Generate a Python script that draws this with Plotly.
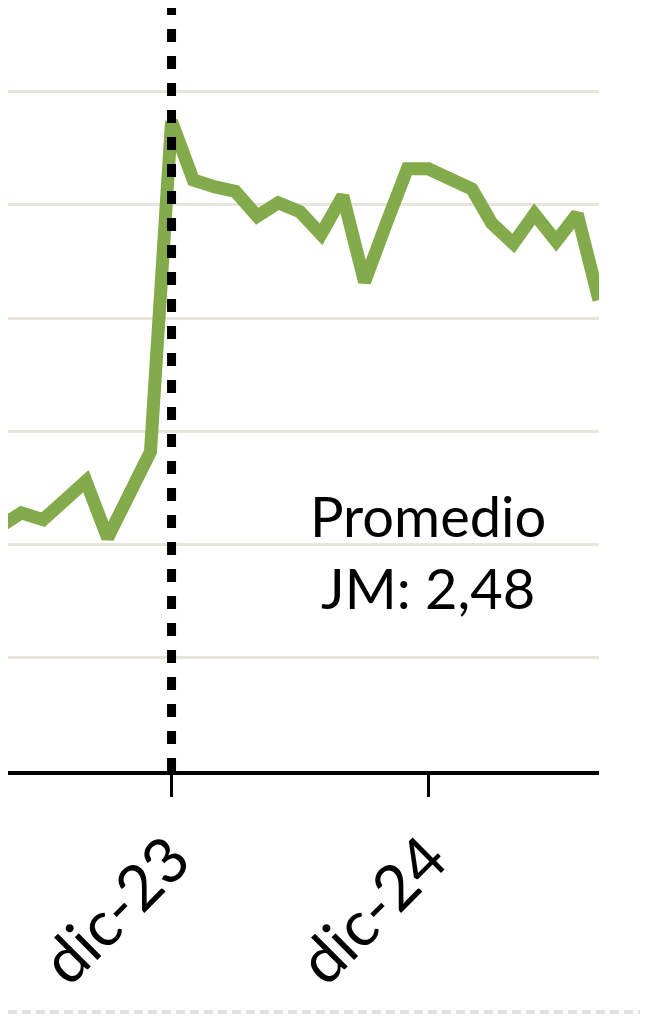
import plotly.graph_objects as go

months = ["2023-04-01", "2023-05-01", "2023-06-01", "2023-07-01", "2023-08-01", "2023-09-01",
          "2023-10-01", "2023-11-01", "2023-12-01", "2024-01-01", "2024-02-01", "2024-03-01",
          "2024-04-01", "2024-05-01", "2024-06-01", "2024-07-01", "2024-08-01", "2024-09-01",
          "2024-10-01", "2024-11-01", "2024-12-01", "2025-01-01", "2025-02-01", "2025-03-01",
          "2025-04-01", "2025-05-01", "2025-06-01", "2025-07-01", "2025-08-01"]
values = [1.08, 1.14, 1.11, 1.20, 1.28, 1.03, 1.21, 1.41, 2.87, 2.61, 2.58, 2.56,
          2.45, 2.51, 2.47, 2.37, 2.54, 2.16, 2.41, 2.66, 2.66, 2.61, 2.57, 2.42,
          2.33, 2.46, 2.34, 2.46, 2.08]

tick_vals = ["2023-12-01", "2024-12-01"]
tick_text = ["dic-23", "dic-24"]
cutoff = "2023-12-01"
y_top = 3.37

font = "Lato"

fig = go.Figure()

fig.add_trace(go.Scatter(x=months, y=values, mode="lines",
                         line=dict(color="#83aa4b", width=13),
                         showlegend=False))

# vertical reference line at the change, drawn on top
fig.add_trace(go.Scatter(x=[cutoff, cutoff], y=[0, y_top], mode="lines",
                         line=dict(color="black", width=9, dash="13px,14px"),
                         hoverinfo="skip", showlegend=False))

fig.add_annotation(x="2024-12-01", y=1.13, xref="x", yref="y", text="Promedio",
                   showarrow=False, font=dict(family=font, size=56, color="black"))
fig.add_annotation(x="2024-12-01", y=0.81, xref="x", yref="y", text="JM: 2,48",
                   showarrow=False, font=dict(family=font, size=56, color="black"))

# dashed separator at the bottom of the image
fig.add_shape(type="line", xref="paper", yref="paper", x0=0, x1=1.09,
              y0=-0.3159, y1=-0.3159,
              line=dict(color="#e0e0dc", width=4, dash="9px,5px"))

fig.update_xaxes(range=["2023-04-12", "2025-08-01"], tickvals=tick_vals, ticktext=tick_text,
                 tickangle=-45, ticks="outside", ticklen=22, tickwidth=3, tickcolor="black",
                 showline=True, linecolor="black", linewidth=4, showgrid=False,
                 zeroline=False, automargin=False,
                 tickfont=dict(family=font, size=63, color="black"))
fig.update_yaxes(range=[0, y_top], dtick=0.5, showgrid=True, gridcolor="#e8e6dc", gridwidth=3,
                 showticklabels=False, zeroline=False, showline=False, automargin=False)

fig.update_layout(width=640, height=1016, margin=dict(l=0, r=49, t=0, b=253),
                  plot_bgcolor="white", paper_bgcolor="white", showlegend=False)

fig.write_html("out.html")
